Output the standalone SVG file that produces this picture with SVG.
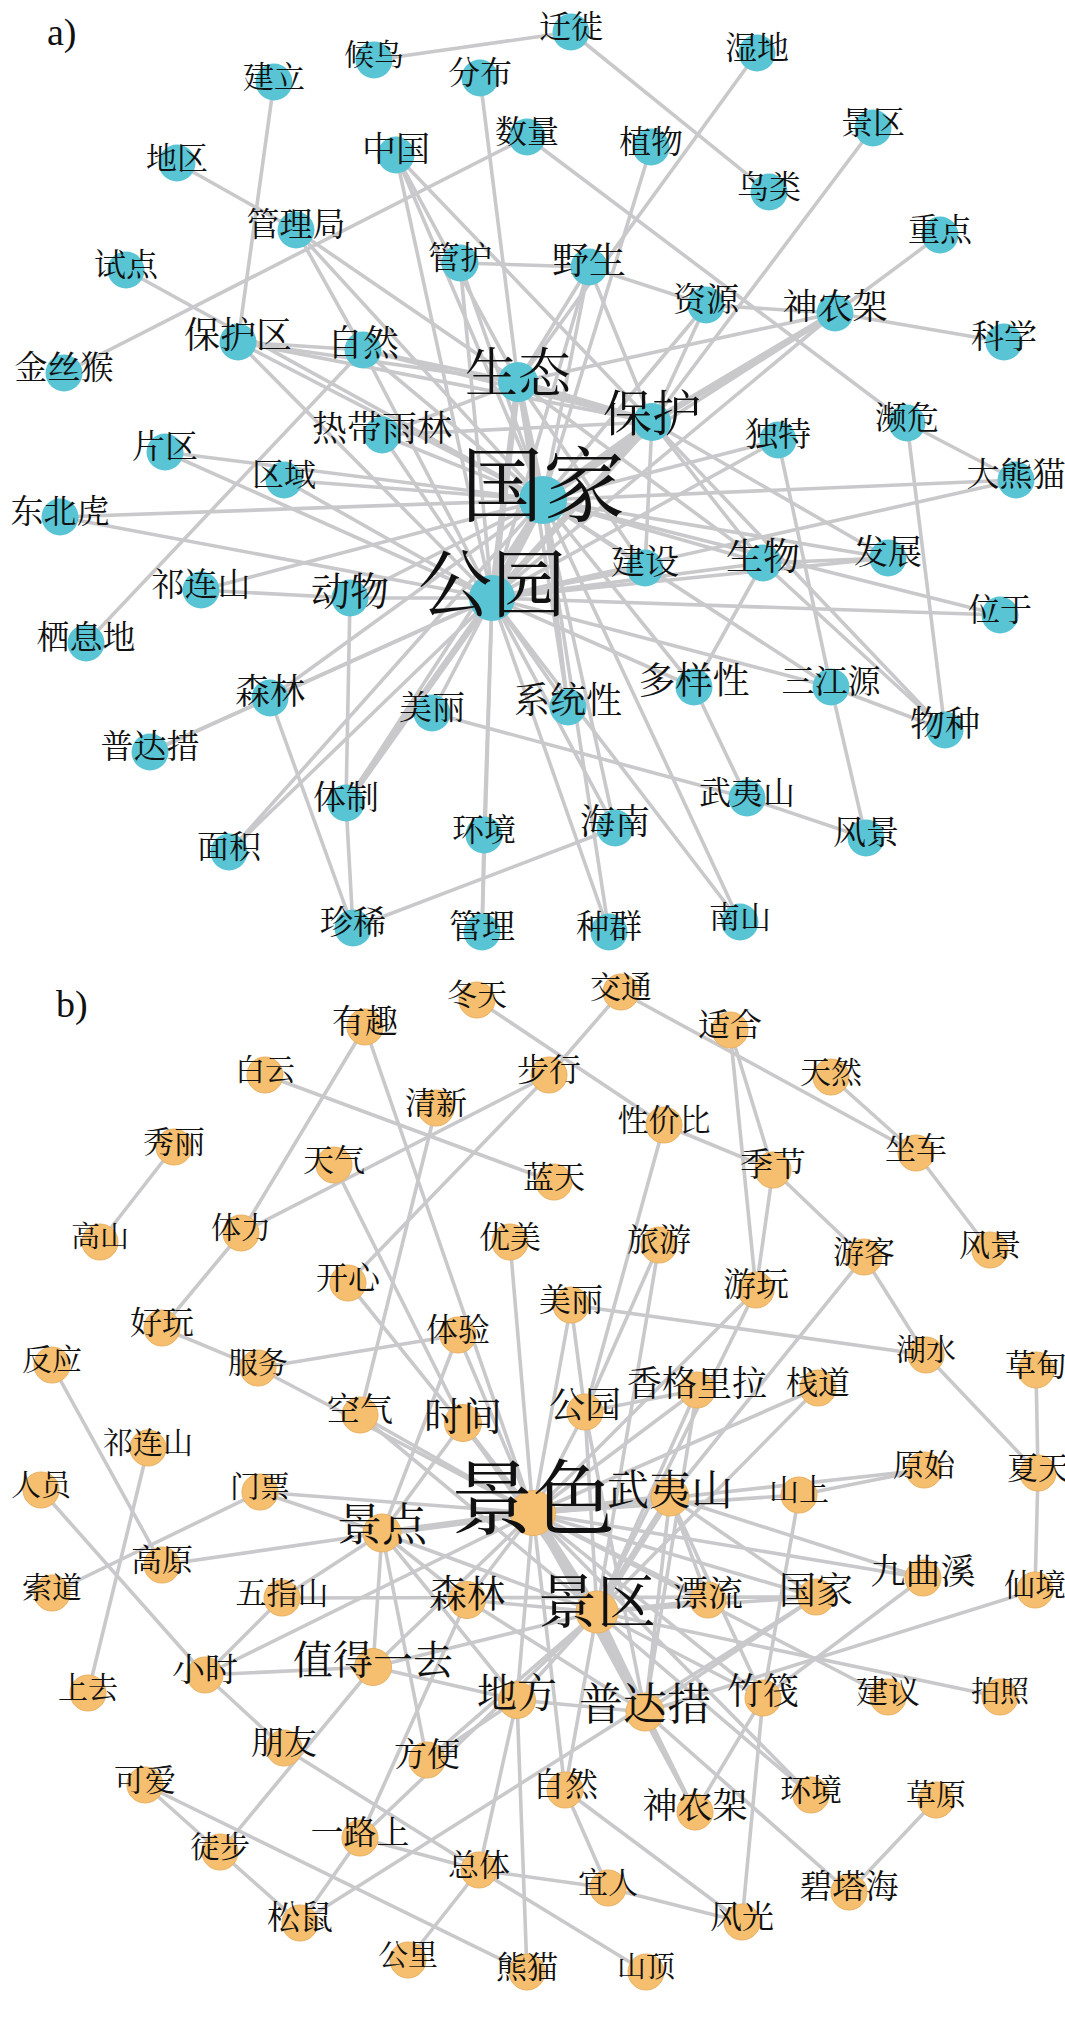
<svg xmlns="http://www.w3.org/2000/svg" width="1065" height="2017" viewBox="0 0 1065 2017">
<style>
.e{stroke:#c9c9cb;stroke-width:3.6;stroke-linecap:round}
.k{stroke:#c9c9cb;stroke-width:6.5;stroke-linecap:round}
.ca{fill:#58c4d4}
.cb{fill:#f6bf6f;stroke:#e9b162;stroke-width:1}
text{font-family:"Noto Serif CJK SC","Noto Sans CJK SC",serif;fill:#111;text-anchor:middle}
.lab{font-family:"Liberation Serif",serif;text-anchor:start;font-size:38px}
</style>
<rect width="1065" height="2017" fill="#fff"/>
<g id="edges">
<line class="e" x1="374" y1="60" x2="571" y2="32"/>
<line class="e" x1="571" y1="32" x2="769" y2="192"/>
<line class="e" x1="757" y1="53" x2="518" y2="382"/>
<line class="e" x1="480" y1="78" x2="518" y2="382"/>
<line class="e" x1="527" y1="137" x2="64" y2="373"/>
<line class="e" x1="527" y1="137" x2="907" y2="423"/>
<line class="e" x1="274" y1="82" x2="238" y2="342"/>
<line class="e" x1="177" y1="163" x2="296" y2="230"/>
<line class="e" x1="296" y1="230" x2="363" y2="350"/>
<line class="e" x1="296" y1="230" x2="543" y2="500"/>
<line class="e" x1="296" y1="230" x2="518" y2="382"/>
<line class="e" x1="126" y1="270" x2="543" y2="500"/>
<line class="e" x1="396" y1="155" x2="492" y2="598"/>
<line class="e" x1="396" y1="155" x2="543" y2="500"/>
<line class="e" x1="396" y1="155" x2="518" y2="382"/>
<line class="e" x1="396" y1="155" x2="652" y2="422"/>
<line class="e" x1="460" y1="263" x2="589" y2="267"/>
<line class="e" x1="460" y1="263" x2="543" y2="500"/>
<line class="e" x1="460" y1="263" x2="492" y2="598"/>
<line class="e" x1="651" y1="147" x2="543" y2="500"/>
<line class="e" x1="873" y1="128" x2="652" y2="422"/>
<line class="e" x1="940" y1="235" x2="835" y2="313"/>
<line class="e" x1="835" y1="313" x2="1004" y2="342"/>
<line class="k" x1="835" y1="313" x2="652" y2="422"/>
<line class="e" x1="835" y1="313" x2="518" y2="382"/>
<line class="e" x1="835" y1="313" x2="543" y2="500"/>
<line class="e" x1="835" y1="313" x2="492" y2="598"/>
<line class="e" x1="589" y1="267" x2="706" y2="305"/>
<line class="e" x1="706" y1="305" x2="835" y2="313"/>
<line class="e" x1="706" y1="305" x2="652" y2="422"/>
<line class="e" x1="706" y1="305" x2="543" y2="500"/>
<line class="e" x1="589" y1="267" x2="543" y2="500"/>
<line class="e" x1="589" y1="267" x2="492" y2="598"/>
<line class="e" x1="589" y1="267" x2="652" y2="422"/>
<line class="e" x1="589" y1="267" x2="518" y2="382"/>
<line class="e" x1="907" y1="423" x2="1016" y2="480"/>
<line class="e" x1="907" y1="423" x2="945" y2="730"/>
<line class="e" x1="778" y1="440" x2="831" y2="687"/>
<line class="e" x1="778" y1="440" x2="543" y2="500"/>
<line class="e" x1="778" y1="440" x2="492" y2="598"/>
<line class="e" x1="1016" y1="480" x2="543" y2="500"/>
<line class="e" x1="1016" y1="480" x2="492" y2="598"/>
<line class="e" x1="60" y1="517" x2="543" y2="500"/>
<line class="e" x1="60" y1="517" x2="492" y2="598"/>
<line class="e" x1="165" y1="452" x2="543" y2="500"/>
<line class="e" x1="165" y1="452" x2="492" y2="598"/>
<line class="e" x1="284" y1="480" x2="543" y2="500"/>
<line class="e" x1="284" y1="480" x2="492" y2="598"/>
<line class="e" x1="201" y1="590" x2="350" y2="598"/>
<line class="e" x1="201" y1="590" x2="543" y2="500"/>
<line class="e" x1="86" y1="643" x2="363" y2="350"/>
<line class="e" x1="350" y1="598" x2="492" y2="598"/>
<line class="e" x1="350" y1="598" x2="543" y2="500"/>
<line class="e" x1="350" y1="598" x2="346" y2="803"/>
<line class="e" x1="346" y1="803" x2="353" y2="928"/>
<line class="k" x1="346" y1="803" x2="492" y2="598"/>
<line class="e" x1="346" y1="803" x2="543" y2="500"/>
<line class="e" x1="150" y1="752" x2="270" y2="698"/>
<line class="e" x1="150" y1="752" x2="492" y2="598"/>
<line class="e" x1="270" y1="698" x2="353" y2="928"/>
<line class="e" x1="270" y1="698" x2="492" y2="598"/>
<line class="e" x1="270" y1="698" x2="543" y2="500"/>
<line class="e" x1="229" y1="852" x2="492" y2="598"/>
<line class="e" x1="229" y1="852" x2="543" y2="500"/>
<line class="e" x1="432" y1="713" x2="492" y2="598"/>
<line class="e" x1="432" y1="713" x2="747" y2="798"/>
<line class="e" x1="747" y1="798" x2="866" y2="838"/>
<line class="e" x1="484" y1="835" x2="492" y2="598"/>
<line class="e" x1="484" y1="835" x2="482" y2="932"/>
<line class="e" x1="353" y1="928" x2="615" y2="828"/>
<line class="e" x1="482" y1="932" x2="492" y2="598"/>
<line class="e" x1="568" y1="707" x2="492" y2="598"/>
<line class="e" x1="568" y1="707" x2="543" y2="500"/>
<line class="e" x1="568" y1="707" x2="518" y2="382"/>
<line class="e" x1="694" y1="687" x2="763" y2="563"/>
<line class="e" x1="694" y1="687" x2="747" y2="798"/>
<line class="e" x1="694" y1="687" x2="543" y2="500"/>
<line class="e" x1="694" y1="687" x2="492" y2="598"/>
<line class="e" x1="831" y1="687" x2="866" y2="838"/>
<line class="e" x1="831" y1="687" x2="945" y2="730"/>
<line class="e" x1="831" y1="687" x2="543" y2="500"/>
<line class="e" x1="831" y1="687" x2="492" y2="598"/>
<line class="e" x1="945" y1="730" x2="763" y2="563"/>
<line class="e" x1="945" y1="730" x2="652" y2="422"/>
<line class="e" x1="1000" y1="615" x2="492" y2="598"/>
<line class="e" x1="1000" y1="615" x2="543" y2="500"/>
<line class="e" x1="888" y1="558" x2="763" y2="563"/>
<line class="e" x1="888" y1="558" x2="543" y2="500"/>
<line class="e" x1="888" y1="558" x2="652" y2="422"/>
<line class="e" x1="888" y1="558" x2="492" y2="598"/>
<line class="e" x1="763" y1="563" x2="543" y2="500"/>
<line class="e" x1="763" y1="563" x2="492" y2="598"/>
<line class="e" x1="763" y1="563" x2="652" y2="422"/>
<line class="e" x1="763" y1="563" x2="518" y2="382"/>
<line class="e" x1="645" y1="568" x2="543" y2="500"/>
<line class="e" x1="645" y1="568" x2="492" y2="598"/>
<line class="e" x1="645" y1="568" x2="652" y2="422"/>
<line class="e" x1="645" y1="568" x2="518" y2="382"/>
<line class="e" x1="615" y1="828" x2="492" y2="598"/>
<line class="e" x1="615" y1="828" x2="543" y2="500"/>
<line class="e" x1="609" y1="932" x2="492" y2="598"/>
<line class="e" x1="609" y1="932" x2="543" y2="500"/>
<line class="e" x1="740" y1="922" x2="492" y2="598"/>
<line class="e" x1="740" y1="922" x2="543" y2="500"/>
<line class="e" x1="238" y1="342" x2="363" y2="350"/>
<line class="e" x1="238" y1="342" x2="518" y2="382"/>
<line class="e" x1="238" y1="342" x2="543" y2="500"/>
<line class="e" x1="238" y1="342" x2="492" y2="598"/>
<line class="e" x1="238" y1="342" x2="652" y2="422"/>
<line class="e" x1="363" y1="350" x2="518" y2="382"/>
<line class="e" x1="363" y1="350" x2="543" y2="500"/>
<line class="e" x1="363" y1="350" x2="492" y2="598"/>
<line class="e" x1="363" y1="350" x2="652" y2="422"/>
<line class="e" x1="382" y1="435" x2="543" y2="500"/>
<line class="e" x1="382" y1="435" x2="492" y2="598"/>
<line class="e" x1="382" y1="435" x2="518" y2="382"/>
<line class="e" x1="382" y1="435" x2="652" y2="422"/>
<line class="k" x1="543" y1="500" x2="492" y2="598" style="stroke-width:9"/>
<line class="k" x1="543" y1="500" x2="518" y2="382"/>
<line class="k" x1="543" y1="500" x2="652" y2="422" style="stroke-width:8"/>
<line class="k" x1="492" y1="598" x2="518" y2="382"/>
<line class="k" x1="492" y1="598" x2="652" y2="422"/>
<line class="k" x1="518" y1="382" x2="652" y2="422"/>

<line class="e" x1="174" y1="1147" x2="100" y2="1242"/>
<line class="e" x1="365" y1="1027" x2="241" y2="1233"/>
<line class="e" x1="365" y1="1027" x2="533" y2="1513"/>
<line class="e" x1="265" y1="1075" x2="554" y2="1182"/>
<line class="e" x1="436" y1="1108" x2="360" y2="1415"/>
<line class="e" x1="241" y1="1233" x2="549" y2="1075"/>
<line class="e" x1="334" y1="1165" x2="463" y2="1423"/>
<line class="e" x1="348" y1="1283" x2="549" y2="1075"/>
<line class="e" x1="348" y1="1283" x2="533" y2="1513"/>
<line class="e" x1="241" y1="1233" x2="162" y2="1328"/>
<line class="e" x1="162" y1="1328" x2="258" y2="1368"/>
<line class="e" x1="258" y1="1368" x2="458" y2="1335"/>
<line class="e" x1="258" y1="1368" x2="533" y2="1513"/>
<line class="e" x1="458" y1="1335" x2="382" y2="1533"/>
<line class="e" x1="458" y1="1335" x2="533" y2="1513"/>
<line class="e" x1="510" y1="1242" x2="533" y2="1513"/>
<line class="e" x1="52" y1="1365" x2="162" y2="1565"/>
<line class="e" x1="148" y1="1448" x2="88" y2="1693"/>
<line class="e" x1="41" y1="1490" x2="205" y2="1675"/>
<line class="e" x1="260" y1="1492" x2="52" y2="1593"/>
<line class="e" x1="260" y1="1492" x2="533" y2="1513"/>
<line class="e" x1="260" y1="1492" x2="382" y2="1533"/>
<line class="e" x1="162" y1="1565" x2="382" y2="1533"/>
<line class="e" x1="282" y1="1598" x2="816" y2="1597"/>
<line class="e" x1="282" y1="1598" x2="382" y2="1533"/>
<line class="e" x1="282" y1="1598" x2="205" y2="1675"/>
<line class="e" x1="205" y1="1675" x2="373" y2="1667"/>
<line class="e" x1="205" y1="1675" x2="284" y2="1748"/>
<line class="e" x1="205" y1="1675" x2="533" y2="1513"/>
<line class="e" x1="284" y1="1748" x2="479" y2="1870"/>
<line class="e" x1="220" y1="1852" x2="373" y2="1667"/>
<line class="e" x1="145" y1="1785" x2="220" y2="1852"/>
<line class="e" x1="145" y1="1785" x2="527" y2="1972"/>
<line class="e" x1="220" y1="1852" x2="300" y2="1923"/>
<line class="e" x1="300" y1="1923" x2="360" y2="1838"/>
<line class="e" x1="300" y1="1923" x2="816" y2="1597"/>
<line class="e" x1="360" y1="1838" x2="479" y2="1870"/>
<line class="e" x1="360" y1="1838" x2="597" y2="1612"/>
<line class="e" x1="360" y1="1838" x2="467" y2="1600"/>
<line class="e" x1="479" y1="1870" x2="408" y2="1960"/>
<line class="e" x1="479" y1="1870" x2="608" y2="1888"/>
<line class="e" x1="479" y1="1870" x2="517" y2="1700"/>
<line class="e" x1="479" y1="1870" x2="646" y2="1972"/>
<line class="e" x1="427" y1="1760" x2="597" y2="1612"/>
<line class="e" x1="427" y1="1760" x2="382" y2="1533"/>
<line class="e" x1="427" y1="1760" x2="517" y2="1700"/>
<line class="e" x1="527" y1="1972" x2="517" y2="1700"/>
<line class="e" x1="565" y1="1790" x2="608" y2="1888"/>
<line class="e" x1="565" y1="1790" x2="742" y2="1922"/>
<line class="e" x1="565" y1="1790" x2="597" y2="1612"/>
<line class="e" x1="565" y1="1790" x2="533" y2="1513"/>
<line class="e" x1="608" y1="1888" x2="742" y2="1922"/>
<line class="e" x1="742" y1="1922" x2="763" y2="1698"/>
<line class="e" x1="849" y1="1892" x2="936" y2="1800"/>
<line class="e" x1="849" y1="1892" x2="645" y2="1712"/>
<line class="e" x1="695" y1="1812" x2="763" y2="1698"/>
<line class="e" x1="695" y1="1812" x2="645" y2="1712"/>
<line class="e" x1="695" y1="1812" x2="597" y2="1612"/>
<line class="e" x1="695" y1="1812" x2="533" y2="1513"/>
<line class="e" x1="811" y1="1795" x2="597" y2="1612"/>
<line class="e" x1="811" y1="1795" x2="533" y2="1513"/>
<line class="e" x1="888" y1="1697" x2="533" y2="1513"/>
<line class="e" x1="1000" y1="1697" x2="597" y2="1612"/>
<line class="e" x1="1035" y1="1590" x2="1038" y2="1473"/>
<line class="e" x1="1035" y1="1590" x2="645" y2="1712"/>
<line class="e" x1="923" y1="1578" x2="670" y2="1497"/>
<line class="e" x1="923" y1="1578" x2="763" y2="1698"/>
<line class="e" x1="923" y1="1578" x2="533" y2="1513"/>
<line class="e" x1="1038" y1="1473" x2="926" y2="1355"/>
<line class="e" x1="1038" y1="1473" x2="1036" y2="1370"/>
<line class="e" x1="926" y1="1355" x2="571" y2="1305"/>
<line class="e" x1="926" y1="1355" x2="864" y2="1257"/>
<line class="e" x1="864" y1="1257" x2="773" y2="1170"/>
<line class="e" x1="864" y1="1257" x2="670" y2="1497"/>
<line class="e" x1="773" y1="1170" x2="730" y2="1030"/>
<line class="e" x1="773" y1="1170" x2="664" y2="1125"/>
<line class="e" x1="773" y1="1170" x2="756" y2="1290"/>
<line class="e" x1="730" y1="1030" x2="756" y2="1290"/>
<line class="e" x1="621" y1="992" x2="916" y2="1153"/>
<line class="e" x1="621" y1="992" x2="549" y2="1075"/>
<line class="e" x1="831" y1="1077" x2="916" y2="1153"/>
<line class="e" x1="916" y1="1153" x2="990" y2="1250"/>
<line class="e" x1="477" y1="1000" x2="664" y2="1125"/>
<line class="e" x1="664" y1="1125" x2="585" y2="1412"/>
<line class="e" x1="659" y1="1245" x2="585" y2="1412"/>
<line class="e" x1="659" y1="1245" x2="597" y2="1612"/>
<line class="e" x1="756" y1="1290" x2="533" y2="1513"/>
<line class="e" x1="756" y1="1290" x2="597" y2="1612"/>
<line class="e" x1="571" y1="1305" x2="585" y2="1412"/>
<line class="e" x1="571" y1="1305" x2="533" y2="1513"/>
<line class="e" x1="697" y1="1390" x2="533" y2="1513"/>
<line class="e" x1="697" y1="1390" x2="597" y2="1612"/>
<line class="e" x1="697" y1="1390" x2="585" y2="1412"/>
<line class="e" x1="697" y1="1390" x2="645" y2="1712"/>
<line class="e" x1="818" y1="1388" x2="533" y2="1513"/>
<line class="e" x1="818" y1="1388" x2="597" y2="1612"/>
<line class="e" x1="924" y1="1470" x2="533" y2="1513"/>
<line class="e" x1="799" y1="1495" x2="533" y2="1513"/>
<line class="e" x1="799" y1="1495" x2="763" y2="1698"/>
<line class="e" x1="799" y1="1495" x2="924" y2="1470"/>
<line class="e" x1="463" y1="1423" x2="533" y2="1513"/>
<line class="e" x1="463" y1="1423" x2="597" y2="1612"/>
<line class="e" x1="463" y1="1423" x2="382" y2="1533"/>
<line class="e" x1="360" y1="1415" x2="533" y2="1513"/>
<line class="e" x1="360" y1="1415" x2="597" y2="1612"/>
<line class="e" x1="585" y1="1412" x2="533" y2="1513"/>
<line class="e" x1="585" y1="1412" x2="597" y2="1612"/>
<line class="e" x1="585" y1="1412" x2="645" y2="1712"/>
<line class="k" x1="533" y1="1513" x2="597" y2="1612" style="stroke-width:9"/>
<line class="k" x1="533" y1="1513" x2="670" y2="1497"/>
<line class="k" x1="533" y1="1513" x2="382" y2="1533"/>
<line class="e" x1="533" y1="1513" x2="467" y2="1600"/>
<line class="e" x1="533" y1="1513" x2="373" y2="1667"/>
<line class="e" x1="533" y1="1513" x2="517" y2="1700"/>
<line class="k" x1="533" y1="1513" x2="645" y2="1712"/>
<line class="e" x1="533" y1="1513" x2="708" y2="1600"/>
<line class="e" x1="533" y1="1513" x2="816" y2="1597"/>
<line class="e" x1="533" y1="1513" x2="763" y2="1698"/>
<line class="k" x1="597" y1="1612" x2="670" y2="1497"/>
<line class="e" x1="597" y1="1612" x2="382" y2="1533"/>
<line class="e" x1="597" y1="1612" x2="467" y2="1600"/>
<line class="e" x1="597" y1="1612" x2="373" y2="1667"/>
<line class="e" x1="597" y1="1612" x2="517" y2="1700"/>
<line class="k" x1="597" y1="1612" x2="645" y2="1712"/>
<line class="e" x1="597" y1="1612" x2="708" y2="1600"/>
<line class="e" x1="597" y1="1612" x2="816" y2="1597"/>
<line class="e" x1="597" y1="1612" x2="763" y2="1698"/>
<line class="e" x1="670" y1="1497" x2="708" y2="1600"/>
<line class="e" x1="670" y1="1497" x2="763" y2="1698"/>
<line class="e" x1="670" y1="1497" x2="645" y2="1712"/>
<line class="e" x1="670" y1="1497" x2="816" y2="1597"/>
<line class="e" x1="670" y1="1497" x2="382" y2="1533"/>
<line class="e" x1="645" y1="1712" x2="816" y2="1597"/>
<line class="e" x1="645" y1="1712" x2="467" y2="1600"/>
<line class="e" x1="645" y1="1712" x2="517" y2="1700"/>
<line class="e" x1="467" y1="1600" x2="382" y2="1533"/>
<line class="e" x1="373" y1="1667" x2="382" y2="1533"/>
<line class="e" x1="517" y1="1700" x2="373" y2="1667"/>
<line class="e" x1="382" y1="1533" x2="517" y2="1700"/>
</g>
<g id="nodes-a">
<g id="a1"><circle class="ca" cx="374" cy="60" r="18.5"/><text x="374" y="65" font-size="30">候鸟</text></g>
<g id="a2"><circle class="ca" cx="571" cy="32" r="18.5"/><text x="571" y="38" font-size="32">迁徙</text></g>
<g id="a3"><circle class="ca" cx="757" cy="53" r="18.5"/><text x="757" y="59" font-size="32">湿地</text></g>
<g id="a4"><circle class="ca" cx="274" cy="82" r="18.5"/><text x="274" y="88" font-size="31">建立</text></g>
<g id="a5"><circle class="ca" cx="480" cy="78" r="18.5"/><text x="480" y="84" font-size="32">分布</text></g>
<g id="a6"><circle class="ca" cx="527" cy="137" r="18.5"/><text x="527" y="143" font-size="32">数量</text></g>
<g id="a7"><circle class="ca" cx="651" cy="147" r="18.5"/><text x="651" y="153" font-size="32">植物</text></g>
<g id="a8"><circle class="ca" cx="873" cy="128" r="18.5"/><text x="873" y="134" font-size="32">景区</text></g>
<g id="a9"><circle class="ca" cx="177" cy="163" r="18.5"/><text x="177" y="169" font-size="31">地区</text></g>
<g id="a10"><circle class="ca" cx="396" cy="155" r="18.5"/><text x="396" y="161" font-size="34">中国</text></g>
<g id="a11"><circle class="ca" cx="769" cy="192" r="18.5"/><text x="769" y="198" font-size="32">鸟类</text></g>
<g id="a12"><circle class="ca" cx="296" cy="230" r="18.5"/><text x="296" y="236" font-size="33">管理局</text></g>
<g id="a13"><circle class="ca" cx="940" cy="235" r="18.5"/><text x="940" y="241" font-size="32">重点</text></g>
<g id="a14"><circle class="ca" cx="126" cy="270" r="18.5"/><text x="126" y="276" font-size="32">试点</text></g>
<g id="a15"><circle class="ca" cx="460" cy="263" r="18.5"/><text x="460" y="269" font-size="32">管护</text></g>
<g id="a16"><circle class="ca" cx="589" cy="267" r="18.5"/><text x="589" y="274" font-size="37">野生</text></g>
<g id="a17"><circle class="ca" cx="706" cy="305" r="18.5"/><text x="706" y="311" font-size="33">资源</text></g>
<g id="a18"><circle class="ca" cx="835" cy="313" r="18.5"/><text x="835" y="319" font-size="35">神农架</text></g>
<g id="a19"><circle class="ca" cx="238" cy="342" r="18.5"/><text x="238" y="348" font-size="36">保护区</text></g>
<g id="a20"><circle class="ca" cx="363" cy="350" r="18.5"/><text x="363" y="356" font-size="36">自然</text></g>
<g id="a21"><circle class="ca" cx="1004" cy="342" r="18.5"/><text x="1004" y="348" font-size="33">科学</text></g>
<g id="a22"><circle class="ca" cx="64" cy="373" r="18.5"/><text x="64" y="379" font-size="33">金丝猴</text></g>
<g id="a23"><circle class="ca" cx="518" cy="382" r="20"/><text x="518" y="392" font-size="53">生态</text></g>
<g id="a24"><circle class="ca" cx="652" cy="422" r="19"/><text x="652" y="431" font-size="49">保护</text></g>
<g id="a25"><circle class="ca" cx="382" cy="435" r="18.5"/><text x="382" y="441" font-size="35">热带雨林</text></g>
<g id="a26"><circle class="ca" cx="165" cy="452" r="18.5"/><text x="165" y="458" font-size="33">片区</text></g>
<g id="a27"><circle class="ca" cx="778" cy="440" r="18.5"/><text x="778" y="446" font-size="33">独特</text></g>
<g id="a28"><circle class="ca" cx="907" cy="423" r="18.5"/><text x="907" y="429" font-size="32">濒危</text></g>
<g id="a29"><circle class="ca" cx="284" cy="480" r="18.5"/><text x="284" y="486" font-size="32">区域</text></g>
<g id="a30"><circle class="ca" cx="543" cy="500" r="24"/><text x="543" y="515" font-size="82">国家</text></g>
<g id="a31"><circle class="ca" cx="1016" cy="480" r="18.5"/><text x="1016" y="486" font-size="33">大熊猫</text></g>
<g id="a32"><circle class="ca" cx="60" cy="517" r="18.5"/><text x="60" y="523" font-size="33">东北虎</text></g>
<g id="a33"><circle class="ca" cx="888" cy="558" r="18.5"/><text x="888" y="564" font-size="34">发展</text></g>
<g id="a34"><circle class="ca" cx="645" cy="568" r="18.5"/><text x="645" y="574" font-size="34">建设</text></g>
<g id="a35"><circle class="ca" cx="763" cy="563" r="18.5"/><text x="763" y="570" font-size="37">生物</text></g>
<g id="a36"><circle class="ca" cx="201" cy="590" r="18.5"/><text x="201" y="596" font-size="33">祁连山</text></g>
<g id="a37"><circle class="ca" cx="350" cy="598" r="18.5"/><text x="350" y="605" font-size="39">动物</text></g>
<g id="a38"><circle class="ca" cx="492" cy="598" r="23"/><text x="492" y="611" font-size="74">公园</text></g>
<g id="a39"><circle class="ca" cx="1000" cy="615" r="18.5"/><text x="1000" y="621" font-size="32">位于</text></g>
<g id="a40"><circle class="ca" cx="86" cy="643" r="18.5"/><text x="86" y="649" font-size="33">栖息地</text></g>
<g id="a41"><circle class="ca" cx="694" cy="687" r="18.5"/><text x="694" y="694" font-size="37">多样性</text></g>
<g id="a42"><circle class="ca" cx="831" cy="687" r="18.5"/><text x="831" y="693" font-size="33">三江源</text></g>
<g id="a43"><circle class="ca" cx="270" cy="698" r="18.5"/><text x="270" y="704" font-size="35">森林</text></g>
<g id="a44"><circle class="ca" cx="432" cy="713" r="18.5"/><text x="432" y="719" font-size="33">美丽</text></g>
<g id="a45"><circle class="ca" cx="568" cy="707" r="18.5"/><text x="568" y="713" font-size="36">系统性</text></g>
<g id="a46"><circle class="ca" cx="945" cy="730" r="18.5"/><text x="945" y="736" font-size="35">物种</text></g>
<g id="a47"><circle class="ca" cx="150" cy="752" r="18.5"/><text x="150" y="758" font-size="33">普达措</text></g>
<g id="a48"><circle class="ca" cx="747" cy="798" r="18.5"/><text x="747" y="804" font-size="32">武夷山</text></g>
<g id="a49"><circle class="ca" cx="346" cy="803" r="18.5"/><text x="346" y="809" font-size="33">体制</text></g>
<g id="a50"><circle class="ca" cx="615" cy="828" r="18.5"/><text x="615" y="834" font-size="35">海南</text></g>
<g id="a51"><circle class="ca" cx="484" cy="835" r="18.5"/><text x="484" y="841" font-size="32">环境</text></g>
<g id="a52"><circle class="ca" cx="866" cy="838" r="18.5"/><text x="866" y="844" font-size="33">风景</text></g>
<g id="a53"><circle class="ca" cx="229" cy="852" r="18.5"/><text x="229" y="858" font-size="32">面积</text></g>
<g id="a54"><circle class="ca" cx="353" cy="928" r="18.5"/><text x="353" y="934" font-size="33">珍稀</text></g>
<g id="a55"><circle class="ca" cx="482" cy="932" r="18.5"/><text x="482" y="938" font-size="33">管理</text></g>
<g id="a56"><circle class="ca" cx="609" cy="932" r="18.5"/><text x="609" y="938" font-size="33">种群</text></g>
<g id="a57"><circle class="ca" cx="740" cy="922" r="18.5"/><text x="740" y="928" font-size="31">南山</text></g>
</g>
<g id="nodes-b">
<g id="b1"><circle class="cb" cx="477" cy="1000" r="18"/><text x="477" y="1005" font-size="30">冬天</text></g>
<g id="b2"><circle class="cb" cx="621" cy="992" r="18"/><text x="621" y="998" font-size="31">交通</text></g>
<g id="b3"><circle class="cb" cx="365" cy="1027" r="18"/><text x="365" y="1033" font-size="33">有趣</text></g>
<g id="b4"><circle class="cb" cx="730" cy="1030" r="18"/><text x="730" y="1036" font-size="32">适合</text></g>
<g id="b5"><circle class="cb" cx="265" cy="1075" r="18"/><text x="265" y="1080" font-size="30">白云</text></g>
<g id="b6"><circle class="cb" cx="549" cy="1075" r="18"/><text x="549" y="1081" font-size="32">步行</text></g>
<g id="b7"><circle class="cb" cx="831" cy="1077" r="18"/><text x="831" y="1083" font-size="31">天然</text></g>
<g id="b8"><circle class="cb" cx="436" cy="1108" r="18"/><text x="436" y="1114" font-size="31">清新</text></g>
<g id="b9"><circle class="cb" cx="664" cy="1125" r="18"/><text x="664" y="1131" font-size="31">性价比</text></g>
<g id="b10"><circle class="cb" cx="174" cy="1147" r="18"/><text x="174" y="1153" font-size="31">秀丽</text></g>
<g id="b11"><circle class="cb" cx="916" cy="1153" r="18"/><text x="916" y="1159" font-size="31">坐车</text></g>
<g id="b12"><circle class="cb" cx="334" cy="1165" r="18"/><text x="334" y="1171" font-size="31">天气</text></g>
<g id="b13"><circle class="cb" cx="773" cy="1170" r="18"/><text x="773" y="1176" font-size="33">季节</text></g>
<g id="b14"><circle class="cb" cx="554" cy="1182" r="18"/><text x="554" y="1188" font-size="31">蓝天</text></g>
<g id="b15"><circle class="cb" cx="100" cy="1242" r="18"/><text x="100" y="1247" font-size="29">高山</text></g>
<g id="b16"><circle class="cb" cx="241" cy="1233" r="18"/><text x="241" y="1238" font-size="30">体力</text></g>
<g id="b17"><circle class="cb" cx="510" cy="1242" r="18"/><text x="510" y="1248" font-size="31">优美</text></g>
<g id="b18"><circle class="cb" cx="659" cy="1245" r="18"/><text x="659" y="1251" font-size="32">旅游</text></g>
<g id="b19"><circle class="cb" cx="864" cy="1257" r="18"/><text x="864" y="1263" font-size="31">游客</text></g>
<g id="b20"><circle class="cb" cx="990" cy="1250" r="18"/><text x="990" y="1256" font-size="31">风景</text></g>
<g id="b21"><circle class="cb" cx="348" cy="1283" r="18"/><text x="348" y="1289" font-size="32">开心</text></g>
<g id="b22"><circle class="cb" cx="756" cy="1290" r="18"/><text x="756" y="1296" font-size="33">游玩</text></g>
<g id="b23"><circle class="cb" cx="571" cy="1305" r="18"/><text x="571" y="1311" font-size="32">美丽</text></g>
<g id="b24"><circle class="cb" cx="162" cy="1328" r="18"/><text x="162" y="1334" font-size="32">好玩</text></g>
<g id="b25"><circle class="cb" cx="458" cy="1335" r="18"/><text x="458" y="1341" font-size="32">体验</text></g>
<g id="b26"><circle class="cb" cx="926" cy="1355" r="18"/><text x="926" y="1360" font-size="30">湖水</text></g>
<g id="b27"><circle class="cb" cx="52" cy="1365" r="18"/><text x="52" y="1370" font-size="30">反应</text></g>
<g id="b28"><circle class="cb" cx="258" cy="1368" r="18"/><text x="258" y="1373" font-size="30">服务</text></g>
<g id="b29"><circle class="cb" cx="1036" cy="1370" r="18"/><text x="1036" y="1376" font-size="31">草甸</text></g>
<g id="b30"><circle class="cb" cx="697" cy="1390" r="18"/><text x="697" y="1396" font-size="35">香格里拉</text></g>
<g id="b31"><circle class="cb" cx="818" cy="1388" r="18"/><text x="818" y="1394" font-size="32">栈道</text></g>
<g id="b32"><circle class="cb" cx="360" cy="1415" r="18"/><text x="360" y="1421" font-size="33">空气</text></g>
<g id="b33"><circle class="cb" cx="463" cy="1423" r="18.5"/><text x="463" y="1430" font-size="39">时间</text></g>
<g id="b34"><circle class="cb" cx="585" cy="1412" r="18"/><text x="585" y="1418" font-size="36">公园</text></g>
<g id="b35"><circle class="cb" cx="148" cy="1448" r="18"/><text x="148" y="1453" font-size="30">祁连山</text></g>
<g id="b36"><circle class="cb" cx="924" cy="1470" r="18"/><text x="924" y="1476" font-size="31">原始</text></g>
<g id="b37"><circle class="cb" cx="1038" cy="1473" r="18"/><text x="1038" y="1479" font-size="31">夏天</text></g>
<g id="b38"><circle class="cb" cx="41" cy="1490" r="18"/><text x="41" y="1495" font-size="30">人员</text></g>
<g id="b39"><circle class="cb" cx="260" cy="1492" r="18"/><text x="260" y="1497" font-size="30">门票</text></g>
<g id="b40"><circle class="cb" cx="533" cy="1513" r="22.5"/><text x="533" y="1528" font-size="82">景色</text></g>
<g id="b41"><circle class="cb" cx="670" cy="1497" r="19"/><text x="670" y="1505" font-size="42">武夷山</text></g>
<g id="b42"><circle class="cb" cx="799" cy="1495" r="18"/><text x="799" y="1500" font-size="30">山上</text></g>
<g id="b43"><circle class="cb" cx="382" cy="1533" r="19"/><text x="382" y="1541" font-size="45">景点</text></g>
<g id="b44"><circle class="cb" cx="162" cy="1565" r="18"/><text x="162" y="1571" font-size="31">高原</text></g>
<g id="b45"><circle class="cb" cx="923" cy="1578" r="18"/><text x="923" y="1584" font-size="35">九曲溪</text></g>
<g id="b46"><circle class="cb" cx="1035" cy="1590" r="18"/><text x="1035" y="1596" font-size="31">仙境</text></g>
<g id="b47"><circle class="cb" cx="52" cy="1593" r="18"/><text x="52" y="1598" font-size="30">索道</text></g>
<g id="b48"><circle class="cb" cx="282" cy="1598" r="18"/><text x="282" y="1604" font-size="31">五指山</text></g>
<g id="b49"><circle class="cb" cx="467" cy="1600" r="18.5"/><text x="467" y="1607" font-size="38">森林</text></g>
<g id="b50"><circle class="cb" cx="597" cy="1612" r="21"/><text x="597" y="1623" font-size="59">景区</text></g>
<g id="b51"><circle class="cb" cx="708" cy="1600" r="18"/><text x="708" y="1606" font-size="35">漂流</text></g>
<g id="b52"><circle class="cb" cx="816" cy="1597" r="18"/><text x="816" y="1604" font-size="37">国家</text></g>
<g id="b53"><circle class="cb" cx="373" cy="1667" r="18.5"/><text x="373" y="1674" font-size="40">值得一去</text></g>
<g id="b54"><circle class="cb" cx="205" cy="1675" r="18"/><text x="205" y="1681" font-size="33">小时</text></g>
<g id="b55"><circle class="cb" cx="88" cy="1693" r="18"/><text x="88" y="1698" font-size="30">上去</text></g>
<g id="b56"><circle class="cb" cx="517" cy="1700" r="18.5"/><text x="517" y="1707" font-size="40">地方</text></g>
<g id="b57"><circle class="cb" cx="645" cy="1712" r="19"/><text x="645" y="1720" font-size="44">普达措</text></g>
<g id="b58"><circle class="cb" cx="763" cy="1698" r="18"/><text x="763" y="1704" font-size="36">竹筏</text></g>
<g id="b59"><circle class="cb" cx="888" cy="1697" r="18"/><text x="888" y="1703" font-size="32">建议</text></g>
<g id="b60"><circle class="cb" cx="1000" cy="1697" r="18"/><text x="1000" y="1702" font-size="29">拍照</text></g>
<g id="b61"><circle class="cb" cx="284" cy="1748" r="18"/><text x="284" y="1754" font-size="33">朋友</text></g>
<g id="b62"><circle class="cb" cx="427" cy="1760" r="18"/><text x="427" y="1766" font-size="33">方便</text></g>
<g id="b63"><circle class="cb" cx="145" cy="1785" r="18"/><text x="145" y="1791" font-size="31">可爱</text></g>
<g id="b64"><circle class="cb" cx="565" cy="1790" r="18"/><text x="565" y="1796" font-size="33">自然</text></g>
<g id="b65"><circle class="cb" cx="695" cy="1812" r="18"/><text x="695" y="1818" font-size="35">神农架</text></g>
<g id="b66"><circle class="cb" cx="811" cy="1795" r="18"/><text x="811" y="1801" font-size="31">环境</text></g>
<g id="b67"><circle class="cb" cx="936" cy="1800" r="18"/><text x="936" y="1805" font-size="30">草原</text></g>
<g id="b68"><circle class="cb" cx="360" cy="1838" r="18"/><text x="360" y="1844" font-size="33">一路上</text></g>
<g id="b69"><circle class="cb" cx="220" cy="1852" r="18"/><text x="220" y="1857" font-size="30">徒步</text></g>
<g id="b70"><circle class="cb" cx="479" cy="1870" r="18"/><text x="479" y="1876" font-size="31">总体</text></g>
<g id="b71"><circle class="cb" cx="608" cy="1888" r="18"/><text x="608" y="1893" font-size="30">宜人</text></g>
<g id="b72"><circle class="cb" cx="849" cy="1892" r="18"/><text x="849" y="1898" font-size="33">碧塔海</text></g>
<g id="b73"><circle class="cb" cx="742" cy="1922" r="18"/><text x="742" y="1928" font-size="32">风光</text></g>
<g id="b74"><circle class="cb" cx="300" cy="1923" r="18"/><text x="300" y="1929" font-size="33">松鼠</text></g>
<g id="b75"><circle class="cb" cx="408" cy="1960" r="18"/><text x="408" y="1965" font-size="30">公里</text></g>
<g id="b76"><circle class="cb" cx="527" cy="1972" r="18"/><text x="527" y="1978" font-size="31">熊猫</text></g>
<g id="b77"><circle class="cb" cx="646" cy="1972" r="18"/><text x="646" y="1977" font-size="29">山顶</text></g>
</g>
<g id="panel-labels">
<text class="lab" x="47" y="45">a)</text>
<text class="lab" x="56" y="1017">b)</text>
</g>
</svg>
